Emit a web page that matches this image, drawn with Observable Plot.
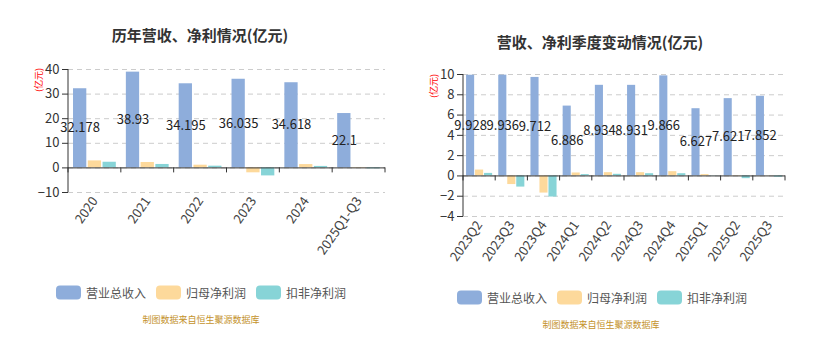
<!DOCTYPE html>
<html><head><meta charset="utf-8">
<script src="https://cdn.jsdelivr.net/npm/d3@7"></script>
<script src="https://cdn.jsdelivr.net/npm/@observablehq/plot@0.6"></script>
<style>
body{margin:0;background:#fff;font-family:"Noto Sans CJK SC","Noto Sans",sans-serif;}
#root{position:relative;width:832px;height:358px;overflow:hidden;background:#fff;}
.abs{position:absolute;}
.title{font-size:15px;font-weight:bold;color:#333;white-space:nowrap;transform:translate(-50%,-50%);}
.unit{font-size:9px;color:#f00;white-space:nowrap;transform:translate(-50%,-50%) rotate(-90deg);}
.item{display:flex;align-items:center;font-size:12px;color:#555;white-space:nowrap;transform:translateY(-50%);}
.sw{width:25px;height:14px;border-radius:4px;margin-right:5px;}
.caption{font-size:9px;color:#c4922b;white-space:nowrap;transform:translate(-50%,-50%);}
</style></head>
<body><div id="root"></div>
<script>
const seriesNames = ["营业总收入", "归母净利润", "扣非净利润"];
const seriesColors = ["#8eaddb", "#fdd99b", "#87d4d7"];

const yearCats = ["2020", "2021", "2022", "2023", "2024", "2025Q1-Q3"];
const yearRevenue = [32.178, 38.93, 34.195, 36.035, 34.618, 22.1];
const yearNetProfit = [2.85, 2.2, 1.1, -2.0, 1.35, 0.17];
const yearDeducted = [2.3, 1.4, 0.7, -3.25, 0.6, -0.38];
const yearTicks = [-10, 0, 10, 20, 30, 40];

const quarterCats = ["2023Q2", "2023Q3", "2023Q4", "2024Q1", "2024Q2", "2024Q3", "2024Q4", "2025Q1", "2025Q2", "2025Q3"];
const quarterRevenue = [9.928, 9.936, 9.712, 6.886, 8.934, 8.931, 9.866, 6.627, 7.621, 7.852];
const quarterNetProfit = [0.58, -0.85, -1.69, 0.29, 0.32, 0.32, 0.42, 0.13, 0.03, 0.01];
const quarterDeducted = [0.25, -1.1, -2.08, 0.13, 0.16, 0.22, 0.22, 0.02, -0.27, -0.13];
const quarterTicks = [-4, -2, 0, 2, 4, 6, 8, 10];

const titles = ["历年营收、净利情况(亿元)", "营收、净利季度变动情况(亿元)"];
const unitText = "(亿元)";
const captionText = "制图数据来自恒生聚源数据库";

const root = document.getElementById("root");
function el(cls, html, left, top) {
  const d = document.createElement("div");
  d.className = "abs " + cls;
  d.style.left = left + "px";
  d.style.top = top + "px";
  d.innerHTML = html;
  root.appendChild(d);
  return d;
}

function makeChart(cfg) {
  const {cats, values, ticks, width, height, ml, mr, mt, mb} = cfg;
  const rows = [];
  cats.forEach((c, i) => seriesNames.forEach((s, k) => rows.push({cat: c, s, v: values[k][i]})));
  const bw = (width - ml - mr) / cats.length;
  const inner = d3.scaleBand().domain(seriesNames).range([0, bw]).paddingInner(0.1).paddingOuter(0.34);
  const ymin = ticks[0], ymax = ticks[ticks.length - 1];
  const bars = seriesNames.map((s, k) => Plot.barY(rows.filter(r => r.s === s), {
    x: "cat", y: "v", fill: seriesColors[k],
    insetLeft: inner(s), insetRight: bw - inner(s) - inner.bandwidth()
  }));
  const dxLabel = inner(seriesNames[0]) + inner.bandwidth() / 2 - bw / 2;
  const axisDecor = (index, scales) => {
    const x = scales.x, y = scales.y;
    const b = typeof x.bandwidth === "function" ? x.bandwidth() : x.bandwidth;
    const g = d3.create("svg:g").attr("stroke", "#333").attr("fill", "none");
    const x0 = x(cats[0]);
    g.append("line").attr("x1", x0).attr("x2", x0).attr("y1", y(ymin)).attr("y2", y(ymax));
    const y0 = y(0);
    const xs = cats.map(c => x(c)).concat([x(cats[cats.length - 1]) + b]);
    xs.forEach(px => g.append("line").attr("x1", px).attr("x2", px).attr("y1", y0).attr("y2", y0 + 5));
    return g.node();
  };
  return Plot.plot({
    width, height, marginLeft: ml, marginRight: mr, marginTop: mt, marginBottom: mb,
    style: {fontFamily: '"Noto Sans CJK SC","Noto Sans",sans-serif', background: "transparent", overflow: "visible"},
    x: {domain: cats, padding: 0, round: false, label: null},
    y: {domain: [ymin, ymax], label: null},
    marks: [
      Plot.gridY(ticks, {stroke: "#ccc", strokeOpacity: 1, strokeDasharray: "5,4"}),
      ...bars,
      Plot.ruleY([0], {stroke: "#333"}),
      axisDecor,
      Plot.axisY(ticks, {tickSize: 6, tickPadding: 3, fontSize: 13, color: "#333", label: null}),
      Plot.axisX({tickRotate: -55, tickSize: 0, tickPadding: 6, fontSize: 13, color: "#444", label: null}),
      Plot.text(rows.filter(r => r.s === seriesNames[0]), {
        x: "cat", y: d => d.v / 2, text: d => String(d.v), dx: dxLabel,
        fontSize: 13, fill: "#222"
      })
    ]
  });
}

// Left chart
const left = makeChart({cats: yearCats, values: [yearRevenue, yearNetProfit, yearDeducted], ticks: yearTicks,
  width: 400, height: 230, ml: 68, mr: 15, mt: 9, mb: 98});
left.style.position = "absolute"; left.style.left = "0px"; left.style.top = "60px";
root.appendChild(left);

const right = makeChart({cats: quarterCats, values: [quarterRevenue, quarterNetProfit, quarterDeducted], ticks: quarterTicks,
  width: 390, height: 230, ml: 53, mr: 15, mt: 14, mb: 74});
right.style.position = "absolute"; right.style.left = "410px"; right.style.top = "60px";
root.appendChild(right);

el("title", titles[0], 200, 34);
el("title", titles[1], 600, 41);
el("unit", unitText, 38, 80);
el("unit", unitText, 433, 86);

function legend(x0, yc) {
  seriesNames.forEach((s, k) => {
    el("item", `<span class="sw" style="background:${seriesColors[k]}"></span>${s}`, x0 + k * 100, yc);
  });
}
legend(56, 292);
legend(457, 297);
el("caption", captionText, 201, 319);
el("caption", captionText, 601, 324);
</script>
</body></html>
